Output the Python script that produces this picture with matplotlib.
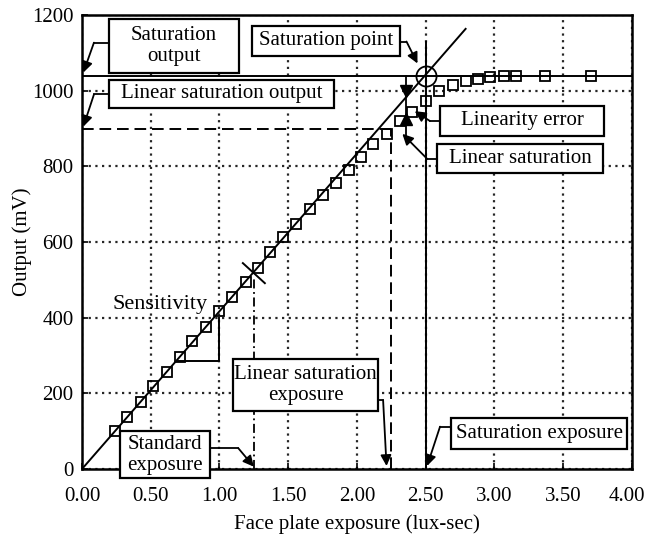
import matplotlib
matplotlib.use("Agg")
import matplotlib.pyplot as plt
import matplotlib.transforms as mtransforms
from matplotlib.patches import Rectangle

plt.rcParams['font.family'] = ['Liberation Serif', 'DejaVu Serif']

# Measured CCD response: face plate exposure (lux-sec) vs output (mV)
exposure = [0.24, 0.33, 0.43, 0.52, 0.62, 0.71, 0.80, 0.90, 1.00, 1.09,
            1.19, 1.28, 1.37, 1.46, 1.56, 1.66, 1.75, 1.85, 1.94, 2.03,
            2.12, 2.22, 2.31, 2.40, 2.50, 2.60, 2.70, 2.79, 2.88, 2.97,
            3.07, 3.16, 3.37, 3.70]
output = [100, 138, 177, 220, 256, 297, 339, 376, 418, 454,
          495, 531, 573, 613, 648, 687, 723, 757, 791, 826,
          859, 886, 919, 945, 972, 998, 1015, 1025, 1031, 1037,
          1040, 1040, 1040, 1040]

sensitivity = 417.0          # mV per lux-sec (slope of the ideal line)
line_end = 2.79              # where the ideal line stops
sat_output = 1040            # saturation output (mV)
lin_sat_output = 900         # linear saturation output (mV)
sat_exposure = 2.50          # saturation exposure (lux-sec)
lin_sat_exposure = 2.25      # linear saturation exposure (lux-sec)
std_exposure = 1.25          # standard exposure (lux-sec)
err_exposure = 2.36          # where the linearity error is marked

x_ticks = [0.0, 0.5, 1.0, 1.5, 2.0, 2.5, 3.0, 3.5, 4.0]
y_ticks = [0, 200, 400, 600, 800, 1000, 1200]

FS = 15

fig = plt.figure(figsize=(6.46, 5.37), dpi=100)
ax = fig.add_axes([0.1269, 0.1266, 0.8514, 0.8454])
ax.set_xlim(0, 4)
ax.set_ylim(0, 1200)
ax.set_xticks(x_ticks)
ax.set_xticklabels([f"{v:.2f}" for v in x_ticks])
ax.set_yticks(y_ticks)
ax.tick_params(direction='in', length=4, width=1.2, labelsize=FS)
ax.tick_params(axis='x', pad=13)
ax.tick_params(axis='y', pad=6)
for s in ax.spines.values():
    s.set_linewidth(1.8)
ax.grid(True, linestyle=(0, (1, 2)), color='black', linewidth=1.6, alpha=0.85)
ax.set_axisbelow(True)
ax.set_xlabel("Face plate exposure (lux-sec)", fontsize=FS, labelpad=6)
ax.set_ylabel("Output (mV)", fontsize=FS, labelpad=0)

# keep the last x tick label inside the canvas
last = ax.get_xticklabels()[-1]
last.set_transform(last.get_transform() +
                   mtransforms.ScaledTranslation(-5 / 100, 0, fig.dpi_scale_trans))

# ideal linear response
ax.plot([0, line_end], [0, sensitivity * line_end], color='black', lw=1.4, zorder=3)
# measured points
ax.plot(exposure, output, linestyle='none', marker='s', markersize=6.5,
        markerfacecolor='none', markeredgecolor='black', markeredgewidth=1.3, zorder=4)

# saturation output level
ax.plot([0, 4], [sat_output, sat_output], color='black', lw=1.4, zorder=3)
# linear saturation output level
ax.plot([0, lin_sat_exposure], [lin_sat_output, lin_sat_output], color='black',
        lw=1.4, linestyle=(0, (6, 3)), zorder=3)
# linear saturation exposure
ax.plot([lin_sat_exposure, lin_sat_exposure], [0, lin_sat_output], color='black',
        lw=1.4, linestyle=(0, (6, 3)), zorder=3)
# saturation exposure
ax.plot([sat_exposure, sat_exposure], [0, 1130], color='black', lw=1.4, zorder=3)
# standard exposure (half of saturation exposure)
std_out = sensitivity * std_exposure
ax.plot([std_exposure, std_exposure], [0, std_out - 10], color='black', lw=1.3,
        linestyle=(0, (5, 2, 1, 2)), zorder=3)
ax.plot([std_exposure - 0.08, std_exposure + 0.08], [std_out + 23, std_out - 30],
        color='black', lw=1.4, zorder=3)

# saturation point circle
ax.plot([sat_exposure], [sat_output], marker='o', markersize=14.5,
        markerfacecolor='none', markeredgecolor='black', markeredgewidth=1.3, zorder=5)

# sensitivity slope triangle
ax.plot([0.70, 1.0, 1.0], [285, 285, 400], color='black', lw=1.4, zorder=3)
ax.text(0.57, 436, "Sensitivity", fontsize=16, ha='center', va='center', zorder=6)

# linearity error marks
ax.plot([err_exposure, err_exposure], [sat_output, 880], color='black', lw=1.3, zorder=3)
ax.plot([err_exposure], [1000], marker='v', markersize=8, color='black', zorder=6)
ax.plot([err_exposure], [925], marker='^', markersize=8, color='black', zorder=6)


def label_box(x0, x1, y0, y1, text):
    ax.add_patch(Rectangle((x0, y0), x1 - x0, y1 - y0, facecolor='white',
                           edgecolor='black', lw=1.6, zorder=7, clip_on=False))
    ax.text((x0 + x1) / 2, (y0 + y1) / 2, text, fontsize=FS, ha='center',
            va='center', linespacing=1.15, zorder=8, clip_on=False)


def leader(points):
    xs = [p[0] for p in points]
    ys = [p[1] for p in points]
    ax.plot(xs[:-1], ys[:-1], color='black', lw=1.3, zorder=7, clip_on=False)
    ax.annotate('', xy=points[-1], xytext=points[-2], zorder=7,
                arrowprops=dict(arrowstyle='-|>', color='black', lw=1.3,
                                mutation_scale=16, shrinkA=0, shrinkB=0))


label_box(0.196, 1.14, 1048, 1190, "Saturation\noutput")
leader([(0.196, 1127), (0.087, 1127), (0.01, 1048)])

label_box(1.236, 2.313, 1093, 1172, "Saturation point")
leader([(2.313, 1130), (2.36, 1130), (2.44, 1072)])

label_box(0.196, 1.833, 955, 1029, "Linear saturation output")
leader([(0.196, 990), (0.087, 990), (0.01, 905)])

label_box(2.604, 3.796, 881, 960, "Linearity error")
leader([(2.604, 920), (2.53, 920), (2.42, 946)])

label_box(2.584, 3.787, 782, 860, "Linear saturation")
leader([(2.584, 820), (2.51, 820), (2.33, 886)])

label_box(0.276, 0.93, -25, 101, "Standard\nexposure")
leader([(0.93, 55), (1.137, 55), (1.25, 6)])

label_box(1.10, 2.155, 153, 291, "Linear saturation\nexposure")
leader([(2.155, 182), (2.19, 182), (2.215, 8)])

label_box(2.687, 3.966, 53, 134, "Saturation exposure")
leader([(2.687, 112), (2.604, 112), (2.51, 8)])

fig.savefig("out.png", dpi=100)
